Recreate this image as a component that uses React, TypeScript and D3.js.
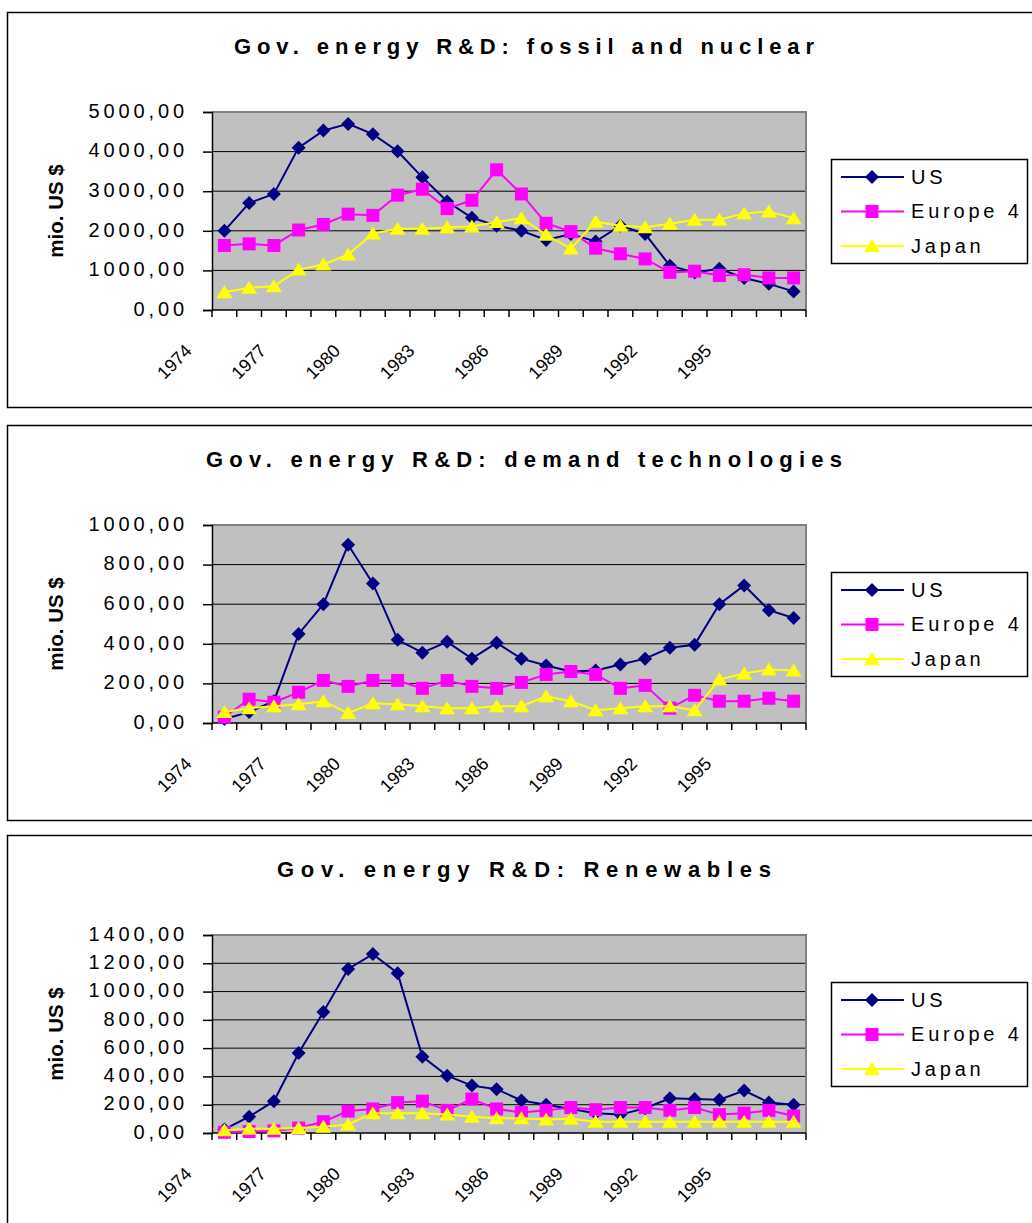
import React, { useRef, useEffect } from 'react'
import * as d3 from 'd3'

// Trois panneaux "Gov. energy R&D" (mio. US $), 1974-1997, style Excel.

const years = [
  '1974', '1975', '1976', '1977', '1978', '1979', '1980', '1981', '1982', '1983', '1984', '1985',
  '1986', '1987', '1988', '1989', '1990', '1991', '1992', '1993', '1994', '1995', '1996', '1997',
]
const yearLabels = ['1974', '1977', '1980', '1983', '1986', '1989', '1992', '1995']
const seriesNames = ['US', 'Europe 4', 'Japan']

const fossilUS = [2000, 2700, 2930, 4100, 4530, 4700, 4440, 4010, 3350, 2740, 2330, 2130, 2000, 1770, 1920, 1730, 2130, 1920, 1120, 950, 1040, 810, 660, 470]
const fossilEU = [1630, 1670, 1630, 2020, 2160, 2420, 2390, 2900, 3050, 2560, 2770, 3540, 2930, 2190, 1980, 1560, 1420, 1290, 950, 980, 870, 890, 810, 810]
const fossilJP = [450, 560, 600, 1020, 1150, 1400, 1930, 2050, 2050, 2090, 2110, 2220, 2320, 1900, 1550, 2230, 2130, 2090, 2180, 2280, 2280, 2440, 2490, 2320]

const demandUS = [20, 55, 110, 450, 600, 900, 705, 420, 355, 410, 325, 405, 325, 290, 260, 265, 295, 325, 380, 395, 600, 695, 570, 530]
const demandEU = [30, 120, 105, 155, 215, 185, 215, 215, 175, 215, 185, 175, 205, 245, 260, 245, 175, 190, 75, 140, 110, 110, 125, 110]
const demandJP = [55, 75, 85, 95, 110, 50, 100, 95, 85, 75, 75, 85, 85, 135, 110, 65, 75, 85, 85, 65, 220, 250, 270, 265]

const renewUS = [25, 115, 225, 565, 855, 1160, 1265, 1130, 540, 405, 335, 310, 230, 200, 170, 140, 130, 175, 245, 240, 235, 300, 215, 200]
const renewEU = [5, 10, 15, 35, 80, 155, 170, 215, 225, 160, 240, 170, 145, 160, 180, 165, 180, 180, 160, 180, 130, 140, 160, 120]
const renewJP = [20, 30, 30, 35, 45, 60, 140, 140, 140, 130, 115, 105, 105, 95, 100, 80, 80, 80, 80, 80, 80, 80, 80, 80]

const titles = [
  'Gov. energy R&D: fossil and nuclear',
  'Gov. energy R&D: demand technologies',
  'Gov. energy R&D: Renewables',
]
const yMax = [5000, 1000, 1400]
const yTicks = [
  [0, 1000, 2000, 3000, 4000, 5000],
  [0, 200, 400, 600, 800, 1000],
  [0, 200, 400, 600, 800, 1000, 1200, 1400],
]

const FONT = '"Liberation Sans", Arial, Helvetica, sans-serif'
const COLORS = ['#000080', '#ff00ff', '#ffff00']

export default function App() {
  const svgRef = useRef<SVGSVGElement | null>(null)

  useEffect(() => {
    const svg = d3.select(svgRef.current)
    svg.selectAll('*').remove()

    const panels = [
      { title: titles[0], top: 112, titleWidth: 580, series: [fossilUS, fossilEU, fossilJP] },
      { title: titles[1], top: 525, titleWidth: 636, series: [demandUS, demandEU, demandJP] },
      { title: titles[2], top: 935, titleWidth: 494, series: [renewUS, renewEU, renewJP] },
    ]

    const left = 212
    const right = 806
    const plotH = 198

    const x = d3.scaleBand<string>().domain(years).range([left, right]).padding(0)
    const cx = (yr: string) => (x(yr) as number) + x.bandwidth() / 2
    const fmt = (v: number) => d3.format('.2f')(v).replace('.', ',')

    // marqueurs façon Excel : losange, carré, triangle
    const marker = (k: number) => {
      if (k === 0) return 'M0,-7L7,0L0,7L-7,0Z'
      if (k === 1) return 'M-6.5,-6.5H6.5V6.5H-6.5Z'
      return 'M0,-7L8,6H-8Z'
    }

    panels.forEach((p, pi) => {
      const top = p.top
      const bottom = top + plotH
      const y = d3.scaleLinear().domain([0, yMax[pi]]).range([bottom, top])
      const g = svg.append('g')

      // cadre du graphique
      g.append('rect')
        .attr('x', 7.5).attr('y', top - 99.5)
        .attr('width', 1034).attr('height', 395)
        .attr('fill', '#fff').attr('stroke', '#000').attr('stroke-width', 1.5)

      g.append('text')
        .attr('x', 524).attr('y', top - 58)
        .attr('text-anchor', 'middle')
        .attr('textLength', p.titleWidth).attr('lengthAdjust', 'spacing')
        .style('font-family', FONT).style('font-size', '22px').style('font-weight', 'bold')
        .text(p.title)

      g.append('text')
        .attr('transform', `translate(63, ${top + plotH / 2}) rotate(-90)`)
        .attr('text-anchor', 'middle')
        .style('font-family', FONT).style('font-size', '20.5px').style('font-weight', 'bold')
        .text('mio. US $')

      // zone de tracé grise
      g.append('rect')
        .attr('x', left).attr('y', top)
        .attr('width', right - left).attr('height', plotH)
        .attr('fill', '#c0c0c0')

      // grille
      g.append('g')
        .selectAll('line')
        .data(yTicks[pi].filter((t) => t > 0 && t < yMax[pi]))
        .join('line')
        .attr('x1', left).attr('x2', right)
        .attr('y1', (d) => y(d)).attr('y2', (d) => y(d))
        .attr('stroke', '#000').attr('stroke-width', 1)

      // bordure haut / droite
      g.append('path')
        .attr('d', `M${left},${y(yMax[pi])}H${right}V${bottom}`)
        .attr('fill', 'none').attr('stroke', '#808080').attr('stroke-width', 2)

      // axe Y
      g.append('g')
        .attr('transform', `translate(${left},0)`)
        .call(d3.axisLeft(y).tickValues(yTicks[pi]).tickSize(9).tickPadding(15).tickFormat((d) => fmt(d as number)))
        .call((a) => a.select('.domain').attr('stroke', '#000').attr('stroke-width', 1.5))
        .call((a) => a.selectAll('.tick line').attr('stroke', '#000').attr('stroke-width', 1.5))
        .call((a) =>
          a.selectAll('.tick text')
            .attr('fill', '#000').attr('dy', '0.26em')
            .style('font-family', FONT).style('font-size', '20px').style('letter-spacing', '3.9px')
        )

      // axe X : traits aux limites de catégories
      const edges = years.map((yr) => x(yr) as number).concat([right])
      g.append('line')
        .attr('x1', left).attr('x2', right)
        .attr('y1', bottom).attr('y2', bottom)
        .attr('stroke', '#000').attr('stroke-width', 1.5)
      g.append('g')
        .selectAll('line')
        .data(edges)
        .join('line')
        .attr('x1', (d) => d).attr('x2', (d) => d)
        .attr('y1', bottom).attr('y2', bottom + 7)
        .attr('stroke', '#000').attr('stroke-width', 1.5)

      g.append('g')
        .selectAll('text')
        .data(yearLabels)
        .join('text')
        .attr('transform', (d) => `translate(${cx(d) - 31.5}, ${bottom + 42}) rotate(-45)`)
        .attr('text-anchor', 'end')
        .style('font-family', FONT).style('font-size', '18px')
        .text((d) => d)

      // séries
      const line = d3
        .line<number>()
        .x((_, i) => cx(years[i]))
        .y((d) => y(d))
      p.series.forEach((vals, k) => {
        g.append('path')
          .datum(vals)
          .attr('fill', 'none')
          .attr('stroke', COLORS[k]).attr('stroke-width', 2)
          .attr('d', line)
        g.append('g')
          .selectAll('path')
          .data(vals)
          .join('path')
          .attr('transform', (d, i) => `translate(${cx(years[i])}, ${y(d)})`)
          .attr('d', marker(k))
          .attr('fill', COLORS[k])
      })

      // légende
      const ly = top + 47.5
      g.append('rect')
        .attr('x', 831.5).attr('y', ly)
        .attr('width', 196).attr('height', 104)
        .attr('fill', '#fff').attr('stroke', '#000').attr('stroke-width', 1.5)
      seriesNames.forEach((name, k) => {
        const ry = ly + 17.5 + k * 34.5
        g.append('line')
          .attr('x1', 841).attr('x2', 904).attr('y1', ry).attr('y2', ry)
          .attr('stroke', COLORS[k]).attr('stroke-width', 2)
        g.append('path')
          .attr('transform', `translate(872, ${ry})`)
          .attr('d', marker(k))
          .attr('fill', COLORS[k])
        g.append('text')
          .attr('x', 911).attr('y', ry).attr('dy', '0.34em')
          .style('font-family', FONT).style('font-size', '20px').style('letter-spacing', '3.8px')
          .text(name)
      })
    })
  }, [])

  return (
    <svg
      ref={svgRef}
      width={1032}
      height={1223}
      viewBox="0 0 1032 1223"
      style={{ position: 'absolute', left: 0, top: 0, background: '#fff' }}
    />
  )
}
